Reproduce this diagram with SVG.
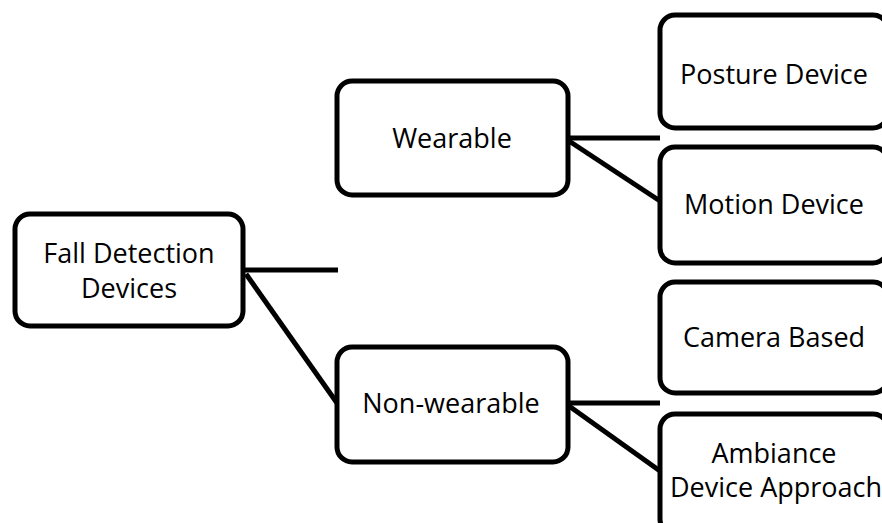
<svg xmlns="http://www.w3.org/2000/svg" width="882" height="523" viewBox="0 0 882 523">
<style>
.box{fill:#fff;stroke:#000;stroke-width:5}
.lbl{font-family:"Open Sans","Liberation Sans",sans-serif;font-size:27px;fill:#000;text-anchor:middle}
.con line{stroke:#000;stroke-width:5}
</style>
<rect width="882" height="523" fill="#fff"/>
<g class="con" id="connectors">
<line x1="245" y1="270" x2="338" y2="270"/>
<line x1="246" y1="274" x2="337" y2="403"/>
<line x1="569" y1="138" x2="660" y2="138"/>
<line x1="569" y1="141" x2="660" y2="201"/>
<line x1="569" y1="403" x2="660" y2="403"/>
<line x1="569" y1="406" x2="660" y2="471"/>
</g>
<g id="fall">
<rect class="box" x="15" y="214" width="228" height="112" rx="15"/>
<text class="lbl" x="129" y="263">Fall Detection</text>
<text class="lbl" x="129" y="298">Devices</text>
</g>
<g id="wearable">
<rect class="box" x="337" y="81" width="231" height="114" rx="15"/>
<text class="lbl" x="452" y="148">Wearable</text>
</g>
<g id="nonwearable">
<rect class="box" x="337" y="347" width="231" height="115" rx="15"/>
<text class="lbl" x="451" y="413">Non-wearable</text>
</g>
<g id="posture">
<rect class="box" x="660" y="15" width="228" height="113" rx="15"/>
<text class="lbl" x="774" y="84">Posture Device</text>
</g>
<g id="motion">
<rect class="box" x="660" y="147" width="228" height="116" rx="15"/>
<text class="lbl" x="774" y="214">Motion Device</text>
</g>
<g id="camera">
<rect class="box" x="660" y="282" width="228" height="111" rx="15"/>
<text class="lbl" x="774" y="347">Camera Based</text>
</g>
<g id="ambiance">
<rect class="box" x="660" y="414" width="228" height="120" rx="15"/>
<text class="lbl" x="774" y="463">Ambiance</text>
<text class="lbl" x="776" y="497">Device Approach</text>
</g>
</svg>
